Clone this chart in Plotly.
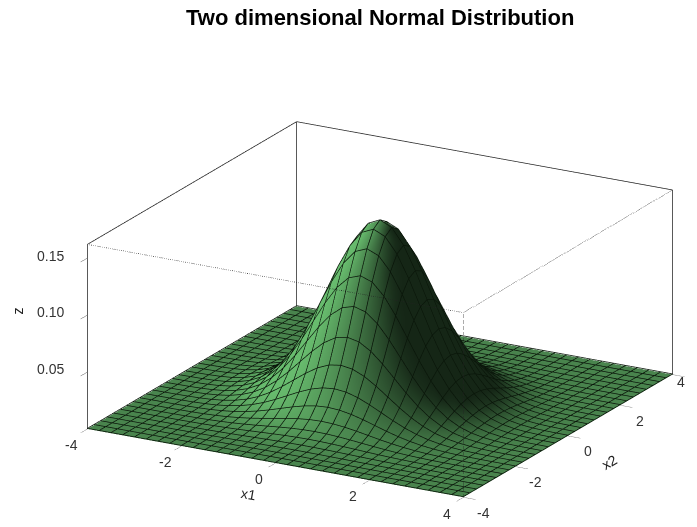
import math
import plotly.graph_objects as go

x1 = [-4 + 0.25 * i for i in range(33)]
x2 = list(x1)
# Height profile along one grid line; the surface is the product of two of them
profile = [0.0001, 0.0004, 0.0009, 0.0020, 0.0044, 0.0091, 0.0175, 0.0317, 0.0540, 0.0863, 0.1295,
           0.1826, 0.2420, 0.3011, 0.3521, 0.3867, 0.3989, 0.3867, 0.3521, 0.3011, 0.2420, 0.1826,
           0.1295, 0.0863, 0.0540, 0.0317, 0.0175, 0.0091, 0.0044, 0.0020, 0.0009, 0.0004, 0.0001]
z = [[a * b for a in profile] for b in profile]
title = "Two dimensional Normal Distribution"
x_ticks = [-4, -2, 0, 2, 4]
x_tick_labels = ["-4", "-2", "0", "2", "4"]
z_ticks = [0.05, 0.10, 0.15]
z_tick_labels = ["0.05", "0.10", "0.15"]
z_range = [0, 0.162]
lo, hi = -4, 4
zlo, ztop = z_range
lift = 0.0006
aspect = dict(x=2.044, y=2.044, z=0.928)

# Shade each grid point from the surface's own slope, with a light from the left
light = (-0.72, -0.38, 0.59)
sx = aspect["x"] / (hi - lo)
sy = aspect["y"] / (hi - lo)
sz = aspect["z"] / (ztop - zlo)
n = len(x1)
shade = []
for j in range(n):
    row = []
    for i in range(n):
        il, ir = max(i - 1, 0), min(i + 1, n - 1)
        jl, jr = max(j - 1, 0), min(j + 1, n - 1)
        dx = (z[j][ir] - z[j][il]) * sz / ((x1[ir] - x1[il]) * sx)
        dy = (z[jr][i] - z[jl][i]) * sz / ((x2[jr] - x2[jl]) * sy)
        norm = math.sqrt(dx * dx + dy * dy + 1)
        dot = (-dx * light[0] - dy * light[1] + light[2]) / norm
        row.append(min(0.2 + 0.85 * max(dot, 0), 1))
    shade.append(row)

fig = go.Figure()
fig.add_trace(go.Surface(
    x=x1, y=x2, z=z, showscale=False, cmin=0, cmax=1,
    surfacecolor=shade,
    colorscale=[[0, "#000000"], [1, "#68bc6e"]],
    lighting=dict(ambient=1, diffuse=0, specular=0, roughness=1, fresnel=0),
))

# Mesh lines along both grid directions, lifted just above the surface
mx, my, mz = [], [], []
for j, b in enumerate(x2):
    mx += x1 + [None]
    my += [b] * 33 + [None]
    mz += [v + lift for v in z[j]] + [None]
for i, a in enumerate(x1):
    mx += [a] * 33 + [None]
    my += x2 + [None]
    mz += [row[i] + lift for row in z] + [None]
fig.add_trace(go.Scatter3d(x=mx, y=my, z=mz, mode="lines", line=dict(color="#0a160a", width=1.5),
                           showlegend=False, hoverinfo="skip"))

def edge(a, b, dash):
    fig.add_trace(go.Scatter3d(
        x=[a[0], b[0]], y=[a[1], b[1]], z=[a[2], b[2]], mode="lines",
        line=dict(color="#222222", width=1.5, dash=dash), showlegend=False, hoverinfo="skip"))

solid = [((lo, lo, zlo), (lo, lo, ztop)), ((lo, hi, zlo), (lo, hi, ztop)), ((hi, hi, zlo), (hi, hi, ztop)),
         ((lo, lo, ztop), (lo, hi, ztop)), ((lo, hi, ztop), (hi, hi, ztop))]
dashed = [((hi, lo, zlo), (hi, lo, ztop)), ((lo, lo, ztop), (hi, lo, ztop)), ((hi, lo, ztop), (hi, hi, ztop))]
for a, b in solid:
    edge(a, b, "solid")
for a, b in dashed:
    edge(a, b, "dot")

tick_font = dict(family="Liberation Sans", size=14, color="#333333")
title_font = dict(family="Liberation Sans", size=14, color="#222222")
annotations = []
for v, t in zip(x_ticks, x_tick_labels):
    annotations.append(dict(x=v, y=lo, z=zlo, text=t, showarrow=False, xshift=-16, yshift=-17, font=tick_font))
for v, t in zip(x_ticks[:-1], x_tick_labels[:-1]):
    annotations.append(dict(x=hi, y=v, z=zlo, text=t, showarrow=False, xshift=20, yshift=-16, font=tick_font))
for v, t in zip(z_ticks, z_tick_labels):
    annotations.append(dict(x=lo, y=lo, z=v, text=t, showarrow=False, xshift=-37, yshift=2, font=tick_font))
annotations.append(dict(x=0, y=lo, z=zlo, text="x1", showarrow=False, xshift=-27, yshift=-32, textangle=10, font=title_font))
annotations.append(dict(x=hi, y=0, z=zlo, text="x2", showarrow=False, xshift=42, yshift=-27, textangle=-30, font=title_font))
annotations.append(dict(x=lo, y=lo, z=0.10, text="z", showarrow=False, xshift=-69, yshift=3, textangle=-90, font=title_font))

axis = dict(showbackground=False, showgrid=False, zeroline=False, showspikes=False, showline=False,
            ticks="outside", ticklen=14, tickcolor="#555555", showticklabels=False, title=dict(text=""))
fig.update_layout(
    width=697, height=527, paper_bgcolor="white",
    margin=dict(l=0, r=0, t=0, b=0), showlegend=False,
    title=dict(text=title, x=0.534, xanchor="center", y=0.983, yanchor="middle",
               font=dict(family="Liberation Sans", size=22, color="black", weight="bold")),
    annotations=[dict(xref="paper", yref="paper", x=0.974, y=0.2713, text=x_tick_labels[-1], showarrow=False, font=tick_font)],
    scene=dict(
        domain=dict(x=[0.067, 1], y=[0.03, 0.828]),
        aspectmode="manual", aspectratio=aspect,
        camera=dict(eye=dict(x=0.69, y=-1.24, z=0.49), center=dict(x=0, y=0, z=0), up=dict(x=0, y=0, z=1),
                    projection=dict(type="orthographic")),
        xaxis=dict(axis, range=[lo, hi], tickvals=x_ticks),
        yaxis=dict(axis, range=[lo, hi], tickvals=x_ticks),
        zaxis=dict(axis, range=z_range, tickvals=z_ticks),
        annotations=annotations,
    ),
)
fig.write_html("out.html")
